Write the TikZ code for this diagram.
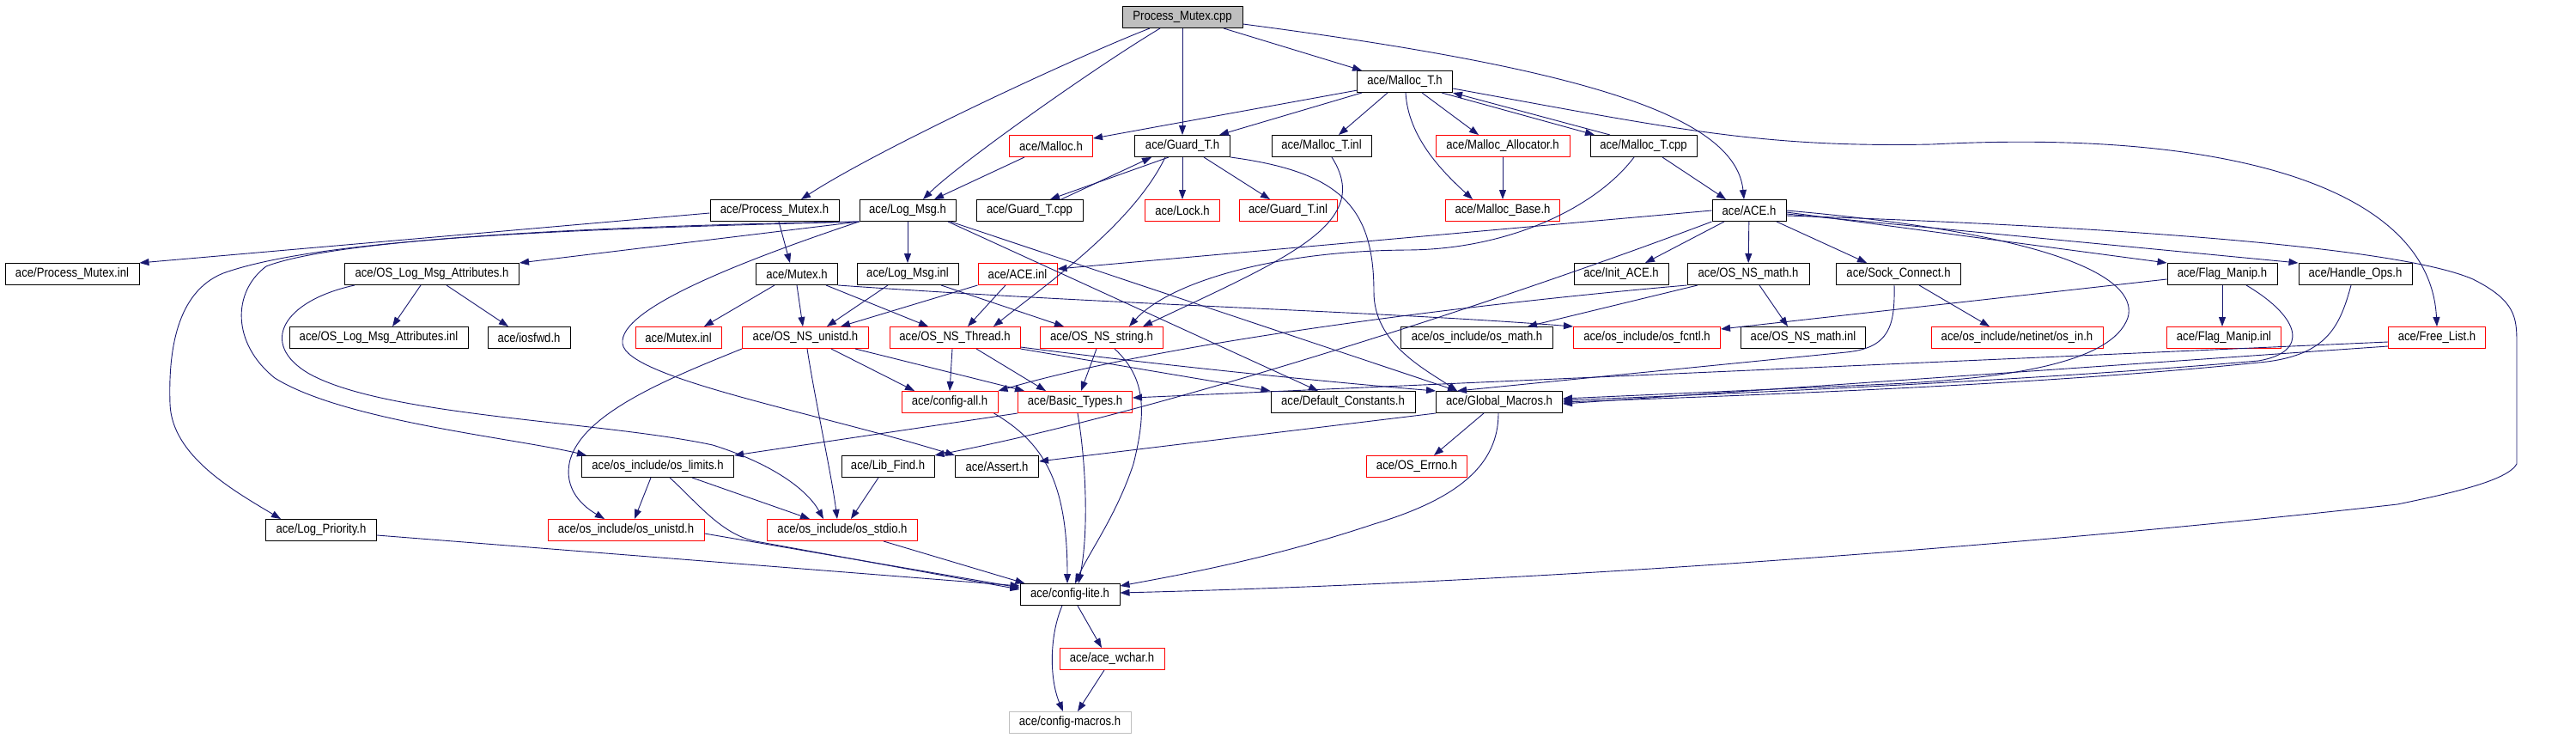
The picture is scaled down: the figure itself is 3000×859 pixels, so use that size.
\documentclass[tikz,border=0pt]{standalone}
\usepackage{fontspec}
\setmainfont{Liberation Sans}[FakeStretch=0.875]
\usetikzlibrary{arrows.meta}
\definecolor{navyc}{HTML}{191970}
\definecolor{grayc}{HTML}{BFBFBF}
\newcommand{\lbl}{\fontsize{15}{18}\selectfont}
\tikzset{
  nb/.style={draw=black, line width=1pt, minimum height=25pt, inner xsep=2pt, inner ysep=0pt, font=\lbl, text=black, fill=white},
  rb/.style={nb, draw=red},
  gb/.style={nb, draw=grayc},
  e/.style={draw=navyc, line width=0.9pt, -{Triangle[length=11pt,width=8pt]}},
}
\begin{document}
\begin{tikzpicture}[x=1pt,y=-1pt]
\fill[white] (0,0) rectangle (3000,859);
\useasboundingbox (0,0) rectangle (3000,859);
% row 1-2
\node[nb, fill=grayc, minimum width=140pt] (pmcpp) at (1377,20) {Process\_Mutex.cpp};
\node[nb, minimum width=111pt] (mallocT) at (1636,95) {ace/Malloc\_T.h};
% row 3
\node[rb, minimum width=97pt] (malloc) at (1224,170) {ace/Malloc.h};
\node[nb, minimum width=111pt] (guardT) at (1377,170) {ace/Guard\_T.h};
\node[nb, minimum width=116pt] (mallocTinl) at (1539,170) {ace/Malloc\_T.inl};
\node[rb, minimum width=156pt] (mallocAlloc) at (1750,170) {ace/Malloc\_Allocator.h};
\node[nb, minimum width=124pt] (mallocTcpp) at (1914,170) {ace/Malloc\_T.cpp};
% row 4
\node[nb, minimum width=150pt] (pmh) at (902,245) {ace/Process\_Mutex.h};
\node[nb, minimum width=112pt] (logmsg) at (1057,245) {ace/Log\_Msg.h};
\node[nb, minimum width=124pt] (guardTcpp) at (1199,245) {ace/Guard\_T.cpp};
\node[rb, minimum width=87pt] (lock) at (1377,245) {ace/Lock.h};
\node[rb, minimum width=114pt] (guardTinl) at (1500,245) {ace/Guard\_T.inl};
\node[rb, minimum width=133pt] (mallocBase) at (1750,245) {ace/Malloc\_Base.h};
\node[nb, minimum width=86pt] (ace) at (2037,245) {ace/ACE.h};
% row 5
\node[nb, minimum width=156pt] (pminl) at (84,319) {ace/Process\_Mutex.inl};
\node[nb, minimum width=203pt] (oslma) at (503,319) {ace/OS\_Log\_Msg\_Attributes.h};
\node[nb, minimum width=95pt] (mutex) at (928,319) {ace/Mutex.h};
\node[nb, minimum width=118pt] (logmsginl) at (1057,319) {ace/Log\_Msg.inl};
\node[rb, minimum width=92pt] (aceinl) at (1185,319) {ace/ACE.inl};
\node[nb, minimum width=110pt] (initace) at (1888,319) {ace/Init\_ACE.h};
\node[nb, minimum width=142pt] (osnsmath) at (2036,319) {ace/OS\_NS\_math.h};
\node[nb, minimum width=145pt] (sock) at (2211,319) {ace/Sock\_Connect.h};
\node[nb, minimum width=128pt] (flag) at (2588,319) {ace/Flag\_Manip.h};
\node[nb, minimum width=132pt] (handle) at (2743,319) {ace/Handle\_Ops.h};
% row 6
\node[nb, minimum width=208pt] (oslmainl) at (441,393) {ace/OS\_Log\_Msg\_Attributes.inl};
\node[nb, minimum width=96pt] (iosfwd) at (616,393) {ace/iosfwd.h};
\node[rb, minimum width=100pt] (mutexinl) at (790,393) {ace/Mutex.inl};
\node[rb, minimum width=147pt] (osnsunistd) at (938,393) {ace/OS\_NS\_unistd.h};
\node[rb, minimum width=152pt] (osnsthread) at (1112,393) {ace/OS\_NS\_Thread.h};
\node[rb, minimum width=143pt] (osnsstring) at (1283,393) {ace/OS\_NS\_string.h};
\node[nb, minimum width=177pt] (osmath) at (1720,393) {ace/os\_include/os\_math.h};
\node[rb, minimum width=171pt] (osfcntl) at (1918,393) {ace/os\_include/os\_fcntl.h};
\node[nb, minimum width=145pt] (osnsmathinl) at (2100,393) {ace/OS\_NS\_math.inl};
\node[rb, minimum width=200pt] (osin) at (2349,393) {ace/os\_include/netinet/os\_in.h};
\node[rb, minimum width=133pt] (flaginl) at (2590,393) {ace/Flag\_Manip.inl};
\node[rb, minimum width=113pt] (freelist) at (2838,393) {ace/Free\_List.h};
% row 7
\node[rb, minimum width=112pt] (configall) at (1106,468) {ace/config-all.h};
\node[rb, minimum width=133pt] (basic) at (1252,468) {ace/Basic\_Types.h};
\node[nb, minimum width=168pt] (defconst) at (1564,468) {ace/Default\_Constants.h};
\node[nb, minimum width=147pt] (global) at (1746,468) {ace/Global\_Macros.h};
% row 8
\node[nb, minimum width=177pt] (oslimits) at (766,543) {ace/os\_include/os\_limits.h};
\node[nb, minimum width=108pt] (libfind) at (1034,543) {ace/Lib\_Find.h};
\node[nb, minimum width=97pt] (assert) at (1161,543) {ace/Assert.h};
\node[rb, minimum width=117pt] (oserrno) at (1650,543) {ace/OS\_Errno.h};
% row 9
\node[nb, minimum width=129pt] (logprio) at (374,617) {ace/Log\_Priority.h};
\node[rb, minimum width=182pt] (osunistd) at (729,617) {ace/os\_include/os\_unistd.h};
\node[rb, minimum width=175pt] (osstdio) at (981,617) {ace/os\_include/os\_stdio.h};
% rows 10-12
\node[nb, minimum width=116pt] (configlite) at (1246,692) {ace/config-lite.h};
\node[rb, minimum width=122pt] (wchar) at (1295,767) {ace/ace\_wchar.h};
\node[gb, minimum width=142pt] (configmacros) at (1246,841) {ace/config-macros.h};

% ---- edges ----
% Process_Mutex.cpp
\draw[e] ([xshift=-38pt]pmcpp.south) .. controls (1261,63) and (1027,171) .. ([xshift=31pt]pmh.north);
\draw[e] ([xshift=-26pt]pmcpp.south) .. controls (1271,81) and (1115,192) .. ([xshift=18pt]logmsg.north);
\draw[e] (pmcpp) -- (guardT);
\draw[e] ([xshift=48pt]pmcpp.south) -- ([xshift=-50pt]mallocT.north);
\draw[e] ([yshift=-8pt]pmcpp.east) .. controls (1830,78) and (2021,132) .. ([xshift=-6pt]ace.north);
% Malloc_T.h
\draw[e] (mallocT) -- (malloc);
\draw[e] ([xshift=-50pt]mallocT.south) -- ([xshift=43pt]guardT.north);
\draw[e] ([xshift=-20pt]mallocT.south) -- ([xshift=20pt]mallocTinl.north);
\draw[e] ([xshift=1pt]mallocT.south) .. controls (1640,160) and (1680,200) .. ([xshift=-35pt]mallocBase.north);
\draw[e] ([xshift=20pt]mallocT.south) -- ([xshift=-28pt]mallocAlloc.north);
\draw[e] ([xshift=43pt]mallocT.south) -- ([xshift=-57pt]mallocTcpp.north);
\draw[e] ([xshift=-39pt]mallocTcpp.north) -- (mallocT.south east);
\draw[e] ([yshift=-8pt]mallocT.east) .. controls (1950,150) and (2050,172) .. (2250,168) .. controls (2600,150) and (2830,220) .. (freelist.north);
% Malloc.h
\draw[e] ([xshift=-31pt]malloc.south) -- ([xshift=31pt]logmsg.north);
% Guard_T.h
\draw[e] ([xshift=-16pt]guardT.south) -- ([xshift=24pt]guardTcpp.north);
\draw[e] ([xshift=37pt]guardTcpp.north) -- ([xshift=-36pt]guardT.south);
\draw[e] (guardT) -- (lock);
\draw[e] ([xshift=25pt]guardT.south) -- ([xshift=-21pt]guardTinl.north);
\draw[e] ([xshift=-20pt]guardT.south) .. controls (1320,260) and (1220,330) .. ([xshift=45pt]osnsthread.north);
\draw[e] (guardT.south east) .. controls (1560,200) and (1600,240) .. (1600,340) .. controls (1600,400) and (1660,430) .. ([xshift=-49pt]global.north);
% Malloc_T.inl, Malloc_Allocator.h, Malloc_T.cpp
\draw[e] ([xshift=12pt]mallocTinl.south) .. controls (1600,260) and (1500,300) .. ([xshift=48pt]osnsstring.north);
\draw[e] (mallocAlloc) -- (mallocBase);
\draw[e] ([xshift=22pt]mallocTcpp.south) -- ([xshift=-27pt]ace.north);
\draw[e] ([xshift=-11pt]mallocTcpp.south) .. controls (1860,240) and (1760,290) .. (1640,291) .. controls (1480,292) and (1360,330) .. ([xshift=32pt]osnsstring.north);
% Process_Mutex.h
\draw[e] ([yshift=-3pt]pmh.west) -- (pminl.north east);
\draw[e] ([xshift=5pt]pmh.south) -- ([xshift=-8pt]mutex.north);
% Log_Msg.h
\draw[e] (logmsg) -- (logmsginl);
\draw[e] (logmsg.south west) -- (oslma.north east);
\draw[e] (logmsg.south west) .. controls (700,266) and (380,275) .. (260,318) .. controls (205,340) and (196,410) .. (198,470) .. controls (200,530) and (270,570) .. ([xshift=-47pt]logprio.north);
\draw[e] (logmsg.south west) .. controls (750,262) and (400,275) .. (310,310) .. controls (270,340) and (270,400) .. (320,440) .. controls (400,490) and (600,510) .. ([xshift=-83pt]oslimits.north);
\draw[e] (logmsg.south west) .. controls (860,305) and (720,360) .. (725,400) .. controls (730,440) and (950,480) .. (assert.north west);
\draw[e] ([xshift=47pt]logmsg.south) -- ([xshift=-29pt]defconst.north);
\draw[e] ([xshift=50pt]logmsg.south) -- ([xshift=-49pt]global.north);
% OS_Log_Msg_Attributes.h
\draw[e] ([xshift=-13pt]oslma.south) -- ([xshift=16pt]oslmainl.north);
\draw[e] ([xshift=17pt]oslma.south) -- ([xshift=-24pt]iosfwd.north);
\draw[e] ([xshift=-90pt]oslma.south) .. controls (330,350) and (300,400) .. (360,435) .. controls (450,485) and (700,490) .. (830,518) .. controls (900,540) and (940,570) .. ([xshift=-22pt]osstdio.north);
% Mutex.h
\draw[e] ([xshift=-26pt]mutex.south) -- ([xshift=30pt]mutexinl.north);
\draw[e] (mutex.south) -- ([xshift=-3pt]osnsunistd.north);
\draw[e] ([xshift=34pt]mutex.south) -- ([xshift=-31pt]osnsthread.north);
\draw[e] (mutex.south east) .. controls (1300,355) and (1600,362) .. (osfcntl.north west);
% Log_Msg.inl, ACE.inl
\draw[e] ([xshift=-23pt]logmsginl.south) -- ([xshift=25pt]osnsunistd.north);
\draw[e] ([xshift=39pt]logmsginl.south) -- ([xshift=-44pt]osnsstring.north);
\draw[e] (aceinl.south west) -- ([xshift=41pt]osnsunistd.north);
\draw[e] ([xshift=-14pt]aceinl.south) -- ([xshift=15pt]osnsthread.north);
% ACE.h
\draw[e] (ace.west) -- ([yshift=6pt]aceinl.east);
\draw[e] ([xshift=-29pt]ace.south) -- ([xshift=28pt]initace.north);
\draw[e] (ace) -- (osnsmath);
\draw[e] ([xshift=32pt]ace.south) -- ([xshift=-37pt]sock.north);
\draw[e] ([yshift=-2pt]ace.east) -- (flag.north west);
\draw[e] ([yshift=-4pt]ace.east) -- (handle.north west);
\draw[e] (ace.south west) .. controls (1750,350) and (1350,480) .. (libfind.north east);
\draw[e] (ace.east) .. controls (2420,275) and (2490,330) .. (2478,370) .. controls (2460,420) and (2350,440) .. (2200,447) -- ([yshift=4pt]global.east);
\draw[e] ([yshift=-6pt]ace.east) .. controls (2500,265) and (2800,290) .. (2880,325) .. controls (2930,350) and (2931,370) .. (2931,400) -- (2931,540) .. controls (2920,560) and (2850,575) .. (2792,587) .. controls (2500,620) and (1900,675) .. ([yshift=2pt]configlite.east);
% OS_NS_math.h
\draw[e] ([xshift=-59pt]osnsmath.south) -- ([xshift=59pt]osmath.north);
\draw[e] ([xshift=13pt]osnsmath.south) -- ([xshift=-18pt]osnsmathinl.north);
\draw[e] (osnsmath.south west) .. controls (1700,355) and (1350,400) .. (configall.north east);
% Sock_Connect.h
\draw[e] ([xshift=24pt]sock.south) -- ([xshift=-32pt]osin.north);
\draw[e] ([xshift=-5pt]sock.south) .. controls (2207,380) and (2200,405) .. (2150,410) -- ([xshift=-49pt]global.north);
% Flag_Manip.h, Handle_Ops.h, Free_List.h
\draw[e] (flag.south) -- (flag.south |- flaginl.north);
\draw[e] ([yshift=-6pt]flag.west) -- ([yshift=10pt]osfcntl.east);
\draw[e] ([xshift=28pt]flag.south) .. controls (2680,370) and (2690,410) .. (2630,420) .. controls (2400,440) and (2100,455) .. ([yshift=2pt]global.east);
\draw[e] ([xshift=-5pt]handle.south) .. controls (2725,380) and (2710,412) .. (2640,421) .. controls (2400,446) and (2100,458) .. ([yshift=0pt]global.east);
\draw[e] ([yshift=-5pt]freelist.west) -- ([yshift=5pt]basic.east);
\draw[e] ([yshift=-10pt]freelist.west) -- ([yshift=-2pt]global.east);
% config-all.h, Basic_Types.h
\draw[e] ([xshift=-5pt]configall.south east) .. controls (1215,515) and (1243,560) .. ([xshift=-3pt]configlite.north);
\draw[e] ([xshift=3pt]basic.south) .. controls (1265,540) and (1268,620) .. ([xshift=10pt]configlite.north);
\draw[e] (basic.south west) -- (oslimits.north east);
% OS_NS_unistd.h
\draw[e] ([xshift=30pt]osnsunistd.south) -- ([xshift=-41pt]configall.north);
\draw[e] ([xshift=58pt]osnsunistd.south) -- ([xshift=-59pt]basic.north);
\draw[e] (osnsunistd.south west) .. controls (780,440) and (680,480) .. (664,535) .. controls (655,570) and (680,590) .. ([xshift=-25pt]osunistd.north);
\draw[e] ([xshift=2pt]osnsunistd.south) .. controls (950,470) and (968,550) .. ([xshift=-6pt]osstdio.north);
% OS_NS_Thread.h
\draw[e] ([xshift=-3pt]osnsthread.south) -- (configall.north);
\draw[e] ([xshift=25pt]osnsthread.south) -- ([xshift=-34pt]basic.north);
\draw[e] (osnsthread.south east) -- (defconst.north west);
\draw[e] ([yshift=2pt]osnsthread.south east) .. controls (1350,425) and (1550,445) .. (global.north west);
% OS_NS_string.h
\draw[e] ([xshift=-6pt]osnsstring.south) -- ([xshift=7pt]basic.north);
\draw[e] ([xshift=15pt]osnsstring.south) .. controls (1335,440) and (1335,480) .. (1320,540) .. controls (1300,600) and (1270,640) .. ([xshift=6pt]configlite.north);
% Global_Macros.h
\draw[e] ([xshift=-18pt]global.south) -- ([xshift=20pt]oserrno.north);
\draw[e] (global.south west) -- ([yshift=6pt]assert.east);
\draw[e] ([xshift=-1pt]global.south) .. controls (1745,540) and (1700,580) .. (1600,610) .. controls (1480,650) and (1380,668) .. ([yshift=10pt]configlite.east);
% os_limits.h
\draw[e] ([xshift=-8pt]oslimits.south) -- ([xshift=10pt]osunistd.north);
\draw[e] ([xshift=40pt]oslimits.south) -- ([xshift=-38pt]osstdio.north);
\draw[e] ([xshift=14pt]oslimits.south) .. controls (812,585) and (840,622) .. (880,630) -- ([yshift=6pt]configlite.west);
% Log_Priority.h, os_unistd.h, os_stdio.h, Lib_Find.h
\draw[e] ([yshift=-6pt]logprio.east) -- ([yshift=10pt]configlite.west);
\draw[e] ([yshift=-4pt]osunistd.east) -- ([yshift=8pt]configlite.west);
\draw[e] ([xshift=48pt]osstdio.south) -- ([xshift=6pt]configlite.north west);
\draw[e] ([xshift=-11pt]libfind.south) -- ([xshift=10pt]osstdio.north);
% config-lite.h, ace_wchar.h
\draw[e] ([xshift=9pt]configlite.south) -- ([xshift=-12pt]wchar.north);
\draw[e] ([xshift=-9pt]configlite.south) .. controls (1222,740) and (1222,790) .. ([xshift=-8pt]configmacros.north);
\draw[e] ([xshift=-9pt]wchar.south) -- ([xshift=9pt]configmacros.north);
\end{tikzpicture}
\end{document}
